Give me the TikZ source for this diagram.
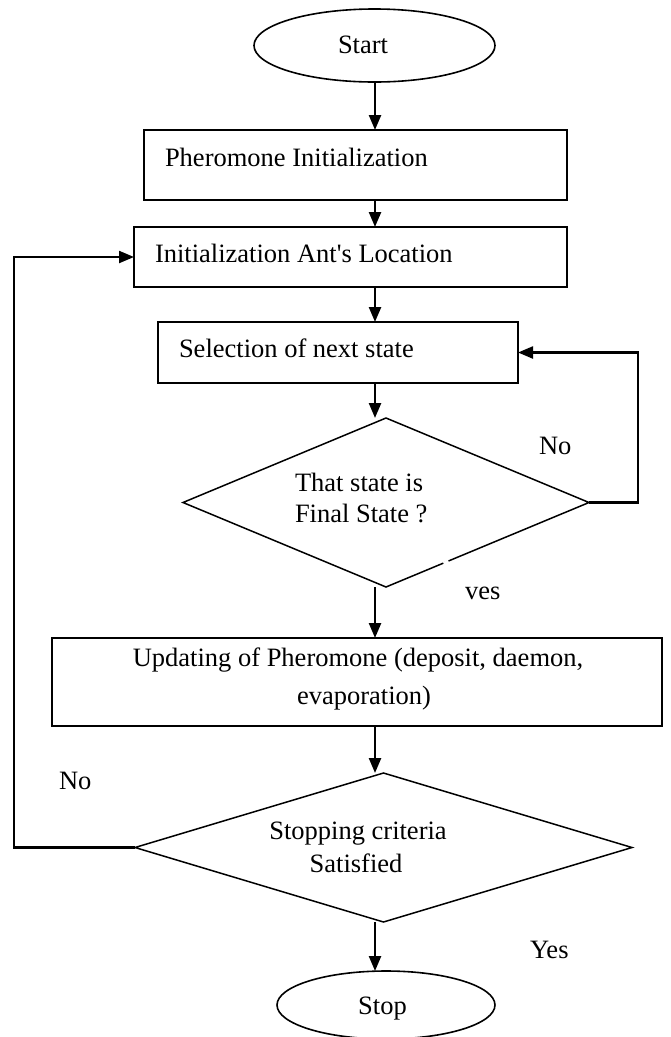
\documentclass[tikz,border=0pt]{standalone}
\usepackage{fontspec}
\setmainfont{Liberation Serif}
\usetikzlibrary{shapes.geometric,arrows.meta}
\begin{document}
\begin{tikzpicture}[x=1pt,y=-1pt,
  every node/.style={inner sep=0pt, outer sep=0pt},
  procbox/.style={draw, line width=2pt, rectangle},
  term/.style={draw, line width=1.6pt, ellipse},
  decide/.style={draw, line width=1.5pt, diamond},
  lbl/.style={font=\fontsize{26.5}{32}\selectfont, anchor=base west},
  clbl/.style={font=\fontsize{26.5}{32}\selectfont, anchor=base},
  flow/.style={line width=2.4pt, -{Triangle[length=15pt,width=12pt]}},
  loopline/.style={line width=2.2pt, -{Triangle[length=15pt,width=12pt]}},
]
\useasboundingbox (0,0) rectangle (671,1037);

% shapes of the flowchart
\node[term, minimum width=241pt, minimum height=73pt] (start) at (374.5,45.5) {};
\node[procbox, minimum width=423pt, minimum height=70pt] (b1) at (355.5,165) {};
\node[procbox, minimum width=433pt, minimum height=60pt] (b2) at (350.5,257) {};
\node[procbox, minimum width=360pt, minimum height=61pt] (b3) at (338,352.5) {};
\node[decide, minimum width=406pt, minimum height=169pt] (d1) at (386,502.5) {};
\node[procbox, minimum width=610pt, minimum height=88pt] (b4) at (357,682) {};
\node[decide, minimum width=497pt, minimum height=149pt] (d2) at (383.5,847.5) {};
\node[term, minimum width=218pt, minimum height=68pt] (stop) at (386,1005) {};

% small break in the lower right edge of the first decision
\draw[white, line width=3pt] (443.5,563.3) -- (448.5,561.2);

% texts
\node[lbl] (tstart) at (338,53) {Start};
\node[lbl] (t1) at (165,166.5) {Pheromone Initialization};
\node[lbl] (t2) at (155,262) {Initialization Ant\textquotesingle s Location};
\node[lbl] (t3) at (179,357) {Selection of next state};
\node[lbl] (t4a) at (295,491) {That state is};
\node[lbl] (t4b) at (295,522) {Final State ?};
\node[lbl] (lno1) at (539,454) {No};
\node[lbl] (lyes1) at (465,599) {ves};
\node[clbl] (t5a) at (358,666) {Updating of Pheromone (deposit, daemon,};
\node[clbl] (t5b) at (364,704) {evaporation)};
\node[clbl] (t6a) at (358,839) {Stopping criteria};
\node[clbl] (t6b) at (356,872) {Satisfied};
\node[lbl] (lno2) at (59,789) {No};
\node[lbl] (lyes2) at (530,958) {Yes};
\node[clbl] (tstop) at (382.5,1014) {Stop};

% connector columns
\coordinate (ax) at (375,0);
\coordinate (lx) at (14,0);
\coordinate (rx) at (638,0);

% main flow
\draw[flow] (start.south -| ax) -- (b1.north -| ax);
\draw[flow] (b1.south -| ax) -- (b2.north -| ax);
\draw[flow] (b2.south -| ax) -- (b3.north -| ax);
\draw[flow] (b3.south -| ax) -- (d1.north -| ax);
\draw[flow] (d1.south -| ax) -- (b4.north -| ax);
\draw[flow] (b4.south -| ax) -- (d2.north -| ax);
\draw[flow] (d2.south -| ax) -- (stop.north -| ax);

% loops back
\draw[loopline] (d1.east) -- (d1.east -| rx) |- (b3.east);
\draw[loopline] (d2.west) -- (d2.west -| lx) |- (b2.west);
\end{tikzpicture}
\end{document}
